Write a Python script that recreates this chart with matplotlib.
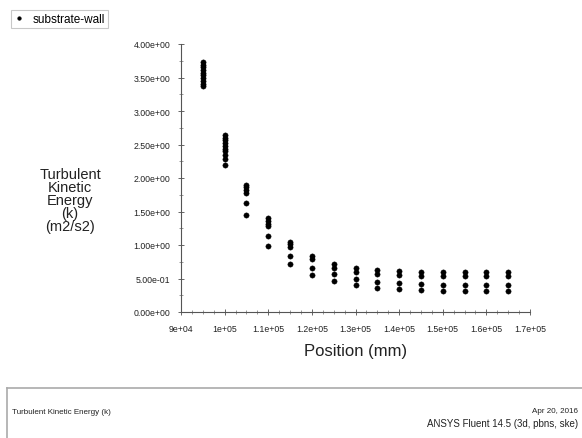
import matplotlib.pyplot as plt
from matplotlib.ticker import FixedLocator, FixedFormatter, MultipleLocator

plt.rcParams['font.family'] = ['Liberation Sans', 'DejaVu Sans']

# k along substrate-wall, grouped by position (mm)
positions = [95000, 100000, 105000, 110000, 115000, 120000, 125000, 130000,
             135000, 140000, 145000, 150000, 155000, 160000, 165000]
k_values = [
    [3.73, 3.69, 3.65, 3.61, 3.57, 3.53, 3.49, 3.45, 3.41, 3.37],
    [2.64, 2.60, 2.56, 2.52, 2.48, 2.44, 2.40, 2.35, 2.29, 2.20],
    [1.90, 1.86, 1.82, 1.78, 1.62, 1.45],
    [1.40, 1.36, 1.32, 1.28, 1.14, 0.99],
    [1.05, 1.01, 0.97, 0.84, 0.71],
    [0.84, 0.79, 0.66, 0.55],
    [0.72, 0.66, 0.56, 0.47],
    [0.66, 0.60, 0.49, 0.40],
    [0.62, 0.56, 0.45, 0.36],
    [0.61, 0.55, 0.43, 0.34],
    [0.60, 0.54, 0.42, 0.33],
    [0.60, 0.54, 0.41, 0.32],
    [0.60, 0.53, 0.41, 0.32],
    [0.60, 0.53, 0.41, 0.32],
    [0.60, 0.53, 0.41, 0.32],
]

x_ticks = [90000, 100000, 110000, 120000, 130000, 140000, 150000, 160000, 170000]
x_tick_labels = ['9e+04', '1e+05', '1.1e+05', '1.2e+05', '1.3e+05',
                 '1.4e+05', '1.5e+05', '1.6e+05', '1.7e+05']
y_ticks = [0.0, 0.5, 1.0, 1.5, 2.0, 2.5, 3.0, 3.5, 4.0]

W, H = 582, 439
fig = plt.figure(figsize=(W / 100, H / 100), dpi=100)

ax = fig.add_axes([181 / W, (H - 313) / H, (530 - 181) / W, (313 - 45) / H])

xs = []
ys = []
for pos, vals in zip(positions, k_values):
    xs += [pos] * len(vals)
    ys += vals
ax.plot(xs, ys, 'o', color='black', ms=3.8, mec='black', mew=0.3,
        label='substrate-wall', clip_on=False)

ax.set_xlim(90000, 170000)
ax.set_ylim(0, 4)
ax.xaxis.set_major_locator(FixedLocator(x_ticks))
ax.xaxis.set_major_formatter(FixedFormatter(x_tick_labels))
ax.xaxis.set_minor_locator(MultipleLocator(2500))
ax.yaxis.set_major_locator(FixedLocator(y_ticks))
ax.yaxis.set_major_formatter(plt.FuncFormatter(lambda v, p: '{:.2e}'.format(v)))
ax.yaxis.set_minor_locator(MultipleLocator(0.25))

for s in ['top', 'right']:
    ax.spines[s].set_visible(False)
for s in ['left', 'bottom']:
    ax.spines[s].set_color('#555555')
    ax.spines[s].set_linewidth(0.8)

ax.tick_params(which='major', direction='inout', length=5, width=0.7,
               color='#666666', labelsize=6.3, labelcolor='#222222')
ax.tick_params(which='minor', direction='inout', length=3, width=0.6,
               color='#888888')
ax.tick_params(axis='x', pad=6)
ax.tick_params(axis='y', pad=5)

ax.set_xlabel('Position (mm)', fontsize=12, color='#222222', labelpad=7)
fig.text(70 / W, 1 - 201 / H, 'Turbulent\nKinetic\nEnergy\n(k)\n(m2/s2)',
         ha='center', va='center', fontsize=10.5, color='#222222',
         linespacing=0.9)

# legend box in the top-left corner
leg = fig.legend(loc='upper left', bbox_to_anchor=(5 / W, 1 - 5 / H),
                 frameon=True, fontsize=8.5, handlelength=0.8, handletextpad=0.8,
                 borderpad=0.25, fancybox=False, markerscale=0.7)
leg.get_frame().set_edgecolor('#bbbbbb')
leg.get_frame().set_linewidth(0.8)

# footer panel
fig.add_artist(plt.Line2D([7 / W, 1], [1 - 389 / H, 1 - 389 / H],
                          color='#aaaaaa', lw=1.2))
fig.add_artist(plt.Line2D([7 / W, 7 / W], [1 - 389 / H, 0],
                          color='#aaaaaa', lw=1.2))
fig.text(12 / W, 1 - 413 / H, 'Turbulent Kinetic Energy (k)', fontsize=5.8,
         va='center', ha='left', color='#222222')
fig.text(578 / W, 1 - 412 / H, 'Apr 20, 2016', fontsize=5.8,
         va='center', ha='right', color='#222222')
fig.text(578 / W, 1 - 424 / H, 'ANSYS Fluent 14.5 (3d, pbns, ske)',
         fontsize=7, va='center', ha='right', color='#222222')

fig.savefig('out.png', dpi=100)
